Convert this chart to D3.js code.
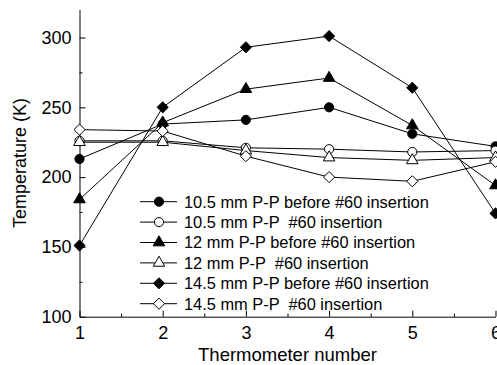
<!DOCTYPE html>
<html>
<head>
<meta charset="utf-8">
<script src="https://cdn.jsdelivr.net/npm/d3@7"></script>
<style>
  html, body { margin: 0; padding: 0; background: #fff; }
  svg { display: block; font-family: "Liberation Sans", Arial, sans-serif; }
</style>
</head>
<body>
<svg id="chart" width="497" height="365"></svg>
<script>
// Thermometer positions along the x axis
const thermometers = [1, 2, 3, 4, 5, 6];

// Temperatures (K) at each thermometer
const t105Before = [213, 238, 241, 250, 231, 222];
const t105After  = [226, 226, 221, 220, 218, 219];
const t12Before  = [184, 239, 263, 271, 237, 194];
const t12After   = [225, 225, 219, 214, 212, 214];
const t145Before = [151, 250, 293, 301, 264, 174];
const t145After  = [234, 233, 215, 200, 197, 211];

const seriesNames = [
  "10.5 mm P-P before #60 insertion",
  "10.5 mm P-P  #60 insertion",
  "12 mm P-P before #60 insertion",
  "12 mm P-P  #60 insertion",
  "14.5 mm P-P before #60 insertion",
  "14.5 mm P-P  #60 insertion"
];
const seriesValues = [t105Before, t105After, t12Before, t12After, t145Before, t145After];
const seriesShapes = ["circle", "circle", "triangle", "triangle", "diamond", "diamond"];
const seriesFilled = [true, false, true, false, true, false];

const yTicks = [100, 150, 200, 250, 300];
const yMinorTicks = [125, 175, 225, 275];
const xMinorTicks = [1.5, 2.5, 3.5, 4.5, 5.5];

const FONT = '"Liberation Sans", Arial, sans-serif';
const svg = d3.select("#chart");
const plotLeft = 79.5, plotRight = 495.5, plotTop = 9.6, plotBottom = 316.7;

const x = d3.scaleLinear().domain([1, 6]).range([plotLeft, plotRight]);
const y = d3.scaleLinear().domain([100, 320]).range([plotBottom, plotTop]);

// Axes with inward ticks
svg.append("g")
  .attr("transform", `translate(${plotLeft},0)`)
  .call(d3.axisLeft(y).tickValues(yTicks).tickSizeInner(-6).tickSizeOuter(0).tickPadding(8));
svg.append("g")
  .attr("transform", `translate(${plotLeft},0)`)
  .call(d3.axisLeft(y).tickValues(yMinorTicks).tickFormat("").tickSizeInner(-3).tickSizeOuter(0))
  .call(g => g.select(".domain").remove());

svg.append("g")
  .attr("transform", `translate(0,${plotBottom})`)
  .call(d3.axisBottom(x).tickValues(thermometers).tickFormat(d3.format("d")).tickSizeInner(-6).tickSizeOuter(0).tickPadding(10));
svg.append("g")
  .attr("transform", `translate(0,${plotBottom})`)
  .call(d3.axisBottom(x).tickValues(xMinorTicks).tickFormat("").tickSizeInner(-3).tickSizeOuter(0))
  .call(g => g.select(".domain").remove());

svg.selectAll(".tick text").attr("font-size", 18).attr("fill", "#000").attr("font-family", FONT);
svg.selectAll(".domain, .tick line").attr("stroke", "#000").attr("stroke-width", 1);

// Axis titles
svg.append("text")
  .attr("x", 287.5).attr("y", 361)
  .attr("text-anchor", "middle").attr("font-size", 18.5).attr("font-family", FONT)
  .text("Thermometer number");
svg.append("text")
  .attr("transform", "translate(26,163) rotate(-90)")
  .attr("text-anchor", "middle").attr("font-size", 18).attr("font-family", FONT)
  .text("Temperature (K)");

// Marker symbols; the diamond is a square turned by 45 degrees
const squareDiamond = {
  draw(context, size) {
    const r = Math.sqrt(size / 2);
    context.moveTo(0, -r);
    context.lineTo(r, 0);
    context.lineTo(0, r);
    context.lineTo(-r, 0);
    context.closePath();
  }
};
const symbolFor = {
  circle: d3.symbol().type(d3.symbolCircle).size(66),
  triangle: d3.symbol().type(d3.symbolTriangle).size(58),
  diamond: d3.symbol().type(squareDiamond).size(62)
};

function drawMarker(g, shape, filled, cx, cy) {
  g.append("path")
    .attr("d", symbolFor[shape]())
    .attr("transform", `translate(${cx},${cy})`)
    .attr("fill", filled ? "#000" : "#fff")
    .attr("stroke", "#000")
    .attr("stroke-width", 1);
}

const line = d3.line().x((d, i) => x(thermometers[i])).y(d => y(d));

seriesValues.forEach((vals, s) => {
  const g = svg.append("g");
  g.append("path")
    .attr("d", line(vals))
    .attr("fill", "none")
    .attr("stroke", "#000")
    .attr("stroke-width", 1);
  vals.forEach((v, i) => drawMarker(g, seriesShapes[s], seriesFilled[s], x(thermometers[i]), y(v)));
});

// Legend
const legend = svg.append("g");
seriesNames.forEach((name, s) => {
  const cy = 201.7 + s * 20.4;
  legend.append("line")
    .attr("x1", 140).attr("x2", 177).attr("y1", cy).attr("y2", cy)
    .attr("stroke", "#000").attr("stroke-width", 1);
  drawMarker(legend, seriesShapes[s], seriesFilled[s], 159, cy);
  legend.append("text")
    .attr("x", 184).attr("y", cy + 5.9)
    .attr("font-size", 16.4).attr("font-family", FONT)
    .style("white-space", "pre")
    .text(name);
});
</script>
</body>
</html>
